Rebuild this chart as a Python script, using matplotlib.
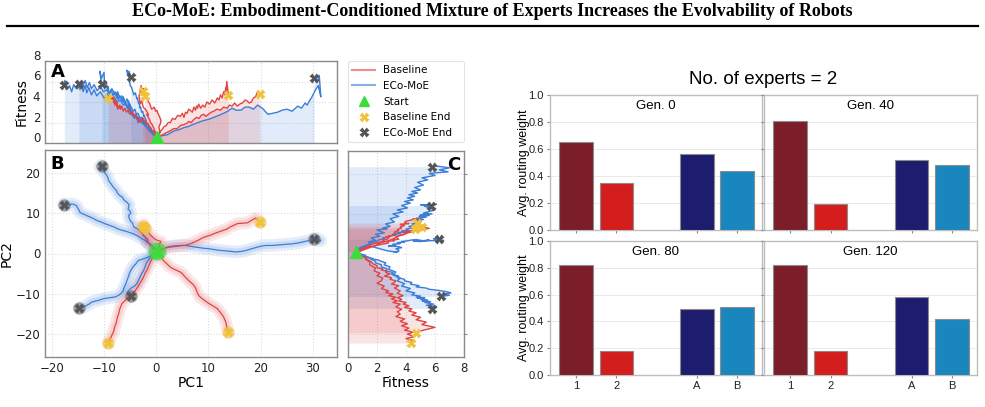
import matplotlib
matplotlib.use("Agg")
import matplotlib.pyplot as plt
from matplotlib.lines import Line2D
from matplotlib.transforms import ScaledTranslation

# ---------------- data: ECo-MoE trajectories (PC1, PC2, fitness) ----------------
eco1_pc1 = [0.2, -0.1, -0.6, -1.0, -1.2, -1.3, -1.7, -2.0, -2.1, -2.5, -2.6, -2.7, -3.1, -3.5, -3.8, -4.2, -4.4, -4.5, -4.9, -5.2, -5.3, -4.9, -5.0, -5.4, -5.3, -5.2, -5.6, -6.0, -6.3, -6.5, -7.0, -7.3, -7.5, -7.6, -7.9, -8.3, -8.6, -9.0, -9.2, -9.3, -9.6, -9.9, -10.0, -10.5, -10.8, -10.6, -10.4]
eco1_pc2 = [0.5, 0.8, 1.2, 1.7, 2.0, 2.5, 3.0, 3.4, 4.0, 4.4, 4.9, 5.3, 5.7, 6.0, 6.3, 6.5, 6.9, 7.5, 8.0, 8.8, 9.4, 10.0, 10.5, 11.0, 11.5, 12.1, 12.7, 13.1, 13.5, 14.0, 14.4, 14.8, 15.2, 15.6, 16.0, 16.6, 17.2, 17.9, 18.5, 19.0, 19.6, 20.1, 20.5, 21.0, 21.5, 21.9, 21.8]
eco1_fit = [0.55, 0.9, 0.8, 1.3, 1.1, 1.6, 1.4, 1.9, 1.6, 2.2, 1.9, 2.5, 2.2, 2.0, 2.7, 2.4, 2.9, 2.6, 3.2, 2.9, 3.5, 3.1, 3.8, 3.4, 4.1, 3.7, 4.3, 3.9, 4.5, 4.1, 4.6, 4.2, 4.8, 4.4, 5.0, 4.6, 5.2, 4.8, 5.5, 5.1, 6.0, 5.6, 6.9, 6.3, 7.0, 6.2, 5.8]

eco2_pc1 = [0.2, -0.3, -0.8, -1.2, -1.8, -2.1, -2.5, -2.9, -3.1, -3.5, -3.8, -4.1, -4.4, -4.9, -5.3, -5.8, -6.3, -6.9, -7.5, -8.1, -8.8, -9.4, -10.0, -10.7, -11.4, -11.9, -12.4, -12.9, -13.3, -13.6, -14.0, -14.3, -14.6, -14.9, -15.3, -15.8, -16.2, -16.6, -17.0, -17.5, -17.8, -17.6]
eco2_pc2 = [0.5, 1.2, 1.8, 2.4, 2.8, 3.2, 3.5, 3.8, 4.0, 4.3, 4.5, 4.7, 4.9, 5.1, 5.3, 5.5, 5.7, 5.9, 6.2, 6.6, 6.9, 7.2, 7.5, 7.9, 8.2, 8.6, 8.9, 9.2, 9.4, 9.6, 9.8, 10.0, 10.2, 11.0, 11.9, 12.2, 12.3, 12.0, 12.0, 12.4, 12.3, 12.1]
eco2_fit = [0.55, 0.8, 1.0, 1.4, 1.6, 2.0, 2.1, 2.5, 2.4, 2.9, 2.8, 3.3, 3.1, 3.6, 3.4, 3.9, 3.7, 4.2, 4.0, 4.5, 4.2, 4.8, 4.4, 5.0, 4.6, 5.2, 4.7, 5.4, 4.9, 5.6, 5.0, 5.8, 5.2, 6.0, 5.3, 5.7, 5.0, 5.6, 5.3, 6.1, 5.4, 5.7]

eco3_pc1 = [0.2, 0.6, 1.0, 1.5, 2.1, 2.8, 3.5, 4.4, 5.3, 6.1, 7.0, 8.0, 9.1, 10.0, 11.0, 12.0, 12.9, 13.7, 14.5, 15.3, 16.2, 17.0, 17.8, 18.6, 19.4, 20.0, 20.5, 21.0, 21.4, 22.3, 23.2, 24.1, 25.0, 26.0, 27.1, 27.8, 28.5, 28.9, 29.3, 29.7, 30.0, 30.5, 31.0, 31.3, 31.5, 31.2, 30.8, 30.2]
eco3_pc2 = [0.5, 0.7, 1.0, 1.3, 1.6, 1.8, 1.9, 2.0, 2.0, 1.9, 1.7, 1.5, 1.3, 1.2, 1.0, 0.8, 0.7, 0.6, 0.5, 0.4, 0.5, 0.7, 1.0, 1.3, 1.6, 1.8, 1.9, 2.0, 2.0, 2.0, 2.1, 2.2, 2.3, 2.4, 2.6, 2.8, 3.0, 3.1, 3.3, 3.5, 3.6, 3.3, 3.5, 3.1, 3.2, 3.4, 3.8, 3.7]
eco3_fit = [0.55, 0.6, 0.7, 0.75, 0.8, 1.0, 1.2, 1.3, 1.5, 1.6, 1.8, 2.0, 2.2, 2.3, 2.5, 2.7, 2.9, 3.1, 3.4, 3.2, 3.2, 3.5, 3.5, 3.3, 3.7, 3.5, 3.3, 3.0, 2.8, 2.9, 3.0, 3.2, 3.3, 3.1, 3.6, 3.4, 3.9, 3.7, 4.1, 4.4, 4.7, 5.2, 5.6, 5.0, 4.5, 6.6, 5.9, 6.3]

eco4_pc1 = [0.2, -0.3, -0.8, -1.2, -1.5, -2.0, -2.4, -2.9, -3.4, -3.7, -4.0, -4.4, -4.7, -5.0, -5.2, -5.4, -5.6, -5.8, -6.0, -6.2, -6.3, -6.6, -7.0, -7.4, -7.9, -8.5, -9.0, -9.5, -10.1, -10.7, -11.3, -11.9, -12.4, -12.8, -13.2, -13.6, -14.0, -14.5, -14.8]
eco4_pc2 = [0.5, 0.1, -0.3, -0.6, -0.9, -1.1, -1.3, -1.5, -1.7, -2.2, -2.7, -3.2, -3.8, -4.5, -5.2, -6.0, -6.7, -7.4, -8.0, -8.6, -9.2, -9.7, -10.2, -10.5, -10.8, -10.9, -11.0, -11.1, -11.2, -11.5, -11.7, -11.9, -12.1, -12.5, -12.8, -13.1, -13.3, -13.5, -13.6]
eco4_fit = [0.55, 0.7, 0.9, 1.2, 1.3, 1.7, 1.8, 2.1, 2.2, 2.6, 2.5, 2.9, 2.8, 3.3, 3.1, 3.6, 3.4, 3.9, 3.7, 4.3, 4.0, 4.6, 4.4, 5.0, 4.7, 5.3, 4.8, 5.2, 5.0, 5.5, 5.1, 5.7, 5.3, 5.9, 5.4, 6.1, 5.6, 6.0, 5.8]

eco5_pc1 = [0.2, -0.1, -0.3, -0.6, -0.8, -1.1, -1.3, -1.6, -1.8, -2.0, -2.1, -2.3, -2.4, -2.6, -2.8, -3.0, -3.1, -3.3, -3.4, -3.6, -3.7, -4.0, -4.3, -4.7, -5.0, -5.2, -5.4, -5.6, -5.5, -5.2, -4.9]
eco5_pc2 = [0.5, 0.2, 0.0, -0.3, -0.5, -0.9, -1.3, -1.8, -2.2, -2.7, -3.2, -3.7, -4.2, -4.6, -5.0, -5.5, -5.9, -6.3, -6.7, -7.1, -7.5, -7.9, -8.2, -8.5, -8.8, -9.1, -9.4, -9.7, -10.0, -10.3, -10.6]
eco5_fit = [0.55, 0.8, 0.9, 1.2, 1.2, 1.5, 1.6, 1.9, 1.9, 2.3, 2.3, 2.7, 2.6, 3.1, 3.0, 3.5, 3.4, 3.9, 3.9, 4.4, 4.3, 4.9, 4.7, 5.4, 5.6, 6.3, 6.8, 7.1, 6.6, 7.0, 6.4]

# ---------------- data: Baseline trajectories ----------------
base1_pc1 = [0.2, 0.0, -0.3, -0.5, -0.8, -1.1, -1.3, -1.6, -1.8, -2.1, -2.3, -2.5, -2.8, -3.1, -3.4, -3.7, -4.0, -4.3, -4.6, -5.0, -5.3, -5.7, -6.0, -6.3, -6.6, -6.8, -7.0, -7.1, -7.2, -7.4, -7.5, -7.6, -7.7, -7.9, -8.0, -8.1, -8.2, -8.4, -8.6, -8.8, -9.0, -9.2]
base1_pc2 = [0.5, 0.0, -0.4, -0.9, -1.3, -2.0, -2.7, -3.5, -4.2, -4.8, -5.4, -6.0, -6.7, -7.3, -8.0, -8.6, -9.2, -9.6, -10.0, -10.4, -10.8, -11.2, -11.7, -12.1, -12.5, -13.2, -13.8, -14.4, -15.0, -15.6, -16.2, -16.8, -17.4, -17.9, -18.5, -19.0, -19.5, -20.0, -20.6, -21.1, -21.6, -22.2]
base1_fit = [0.55, 0.8, 0.9, 1.2, 1.2, 1.5, 1.5, 1.9, 1.8, 2.2, 2.0, 2.4, 2.3, 2.0, 2.5, 2.3, 2.8, 2.6, 3.1, 2.8, 3.3, 3.0, 3.4, 3.1, 3.6, 3.3, 3.7, 3.4, 3.6, 3.3, 3.9, 3.6, 4.1, 3.7, 4.2, 3.9, 4.5, 4.1, 4.6, 4.0, 4.5, 4.35]

base2_pc1 = [0.2, 0.4, 0.6, 0.9, 1.1, 1.5, 1.9, 2.3, 2.7, 3.1, 3.6, 4.1, 4.6, 5.0, 5.3, 5.6, 5.9, 6.2, 6.5, 6.9, 7.2, 7.5, 7.7, 7.9, 8.1, 8.5, 8.9, 9.3, 9.7, 10.2, 10.7, 11.2, 11.7, 12.0, 12.3, 12.6, 12.9, 13.1, 13.3, 13.4, 13.5, 13.7, 13.8]
base2_pc2 = [0.5, 0.0, -0.4, -0.9, -1.3, -1.9, -2.4, -2.9, -3.4, -3.7, -4.0, -4.3, -4.6, -5.0, -5.5, -5.9, -6.3, -6.7, -7.1, -7.5, -7.9, -8.5, -9.2, -9.8, -10.4, -10.9, -11.3, -11.7, -12.1, -12.5, -12.9, -13.3, -13.7, -14.2, -14.7, -15.2, -15.8, -16.4, -17.0, -17.6, -18.3, -19.0, -19.6]
base2_fit = [0.55, 0.8, 0.9, 1.2, 1.3, 1.6, 1.7, 2.0, 2.0, 2.4, 2.3, 2.7, 2.6, 2.9, 2.5, 3.0, 2.9, 3.3, 3.2, 3.0, 3.5, 3.2, 3.6, 3.4, 3.8, 3.4, 3.7, 3.5, 4.0, 3.8, 4.2, 3.9, 4.4, 4.2, 4.7, 4.4, 5.0, 4.7, 5.4, 5.1, 6.0, 5.2, 4.7]

base3_pc1 = [0.2, 0.7, 1.2, 1.9, 2.7, 3.3, 4.0, 4.6, 5.3, 5.8, 6.2, 6.7, 7.2, 7.7, 8.2, 8.6, 9.1, 9.5, 10.0, 10.5, 11.0, 11.6, 12.3, 12.9, 13.6, 14.0, 14.5, 15.0, 15.5, 16.0, 16.5, 17.0, 17.4, 17.8, 18.2, 18.6, 19.0, 19.3, 19.5, 19.8]
base3_pc2 = [0.5, 0.8, 1.1, 1.4, 1.6, 1.7, 1.8, 1.9, 2.0, 2.1, 2.3, 2.5, 2.8, 3.1, 3.4, 3.7, 4.0, 4.2, 4.4, 4.6, 4.9, 5.2, 5.5, 5.8, 6.1, 6.5, 6.8, 7.1, 7.4, 7.5, 7.5, 7.6, 7.6, 7.9, 8.2, 8.5, 8.8, 8.6, 8.3, 7.7]
base3_fit = [0.55, 0.7, 0.8, 1.0, 1.2, 1.4, 1.4, 1.7, 1.8, 1.9, 2.1, 2.0, 2.3, 2.5, 2.4, 2.7, 2.8, 2.6, 2.8, 3.0, 3.1, 3.3, 3.2, 3.5, 3.4, 3.7, 3.6, 3.9, 3.6, 3.8, 3.9, 4.2, 4.1, 3.9, 4.0, 4.4, 4.5, 4.9, 4.9, 4.75]

base4_pc1 = [0.2, 0.0, -0.3, -0.5, -0.8, -1.1, -1.3, -1.6, -1.8, -1.5, -1.7, -2.1, -2.5, -2.8, -3.1, -3.3, -3.0, -2.9, -2.6, -2.4, -2.7, -2.6]
base4_pc2 = [0.5, 0.8, 1.2, 1.6, 2.0, 2.2, 2.4, 2.6, 2.8, 3.2, 3.6, 4.1, 4.6, 5.2, 5.5, 5.8, 6.1, 6.4, 6.8, 7.2, 7.0, 6.8]
base4_fit = [0.55, 0.9, 1.2, 1.5, 1.8, 2.0, 2.3, 2.6, 2.8, 2.7, 3.0, 3.3, 3.5, 4.1, 3.8, 4.6, 5.2, 5.6, 4.9, 5.3, 4.8, 5.1]

base5_pc1 = [0.2, 0.5, 0.7, 0.6, 0.5, 0.8, 0.9, 0.6, 0.4, 0.1, -0.1, -0.4, -0.6, -0.9, -1.1, -1.3, -1.5, -1.7, -1.8, -2.0, -2.2]
base5_pc2 = [0.5, 0.9, 1.3, 1.8, 2.4, 2.7, 3.0, 3.1, 3.2, 3.3, 3.5, 3.7, 4.0, 4.3, 4.6, 4.9, 5.2, 5.5, 5.8, 6.0, 6.3]
base5_fit = [0.55, 0.8, 1.1, 1.3, 1.6, 1.9, 2.2, 2.6, 2.8, 3.2, 3.1, 3.5, 3.4, 3.3, 3.6, 3.9, 4.0, 4.4, 4.3, 4.7, 4.6]

# ---------------- data: routing weights ----------------
generations = ["Gen. 0", "Gen. 40", "Gen. 80", "Gen. 120"]
bar_labels = ["1", "2", "A", "B"]
weight_1 = [0.655, 0.805, 0.824, 0.818]
weight_2 = [0.345, 0.195, 0.176, 0.182]
weight_A = [0.56, 0.517, 0.49, 0.585]
weight_B = [0.44, 0.483, 0.51, 0.415]

title_text = "ECo-MoE: Embodiment-Conditioned Mixture of Experts Increases the Evolvability of Robots"

# ---------------- styling ----------------
BLUE = "#3b7dd8"
RED = "#e04444"
GREEN = "#3ddc3d"
YELLOW = "#f0c23a"
GRAY = "#555555"
BAR_COLORS = ["#7b1e2a", "#d41d1d", "#1e1c6e", "#1a86be"]

eco = [(eco1_pc1, eco1_pc2, eco1_fit), (eco2_pc1, eco2_pc2, eco2_fit), (eco3_pc1, eco3_pc2, eco3_fit),
       (eco4_pc1, eco4_pc2, eco4_fit), (eco5_pc1, eco5_pc2, eco5_fit)]
base = [(base1_pc1, base1_pc2, base1_fit), (base2_pc1, base2_pc2, base2_fit), (base3_pc1, base3_pc2, base3_fit),
        (base4_pc1, base4_pc2, base4_fit), (base5_pc1, base5_pc2, base5_fit)]

W, H = 985, 407
fig = plt.figure(figsize=(W / 100, H / 100), dpi=100)
plt.rcParams['font.family'] = ['DejaVu Sans']


def box(x0, y0, x1, y1):
    return [x0 / W, 1 - y1 / H, (x1 - x0) / W, (y1 - y0) / H]


def style_left(ax):
    for s in ax.spines.values():
        s.set_color("#8a8a8a")
        s.set_linewidth(1.0)
    ax.grid(True, color="#dcdcdc", ls=":", lw=0.8)
    ax.set_axisbelow(True)
    ax.tick_params(labelsize=8.5, length=0, colors="#222222")


# title + rule
fig.text(0.5, 1 - 12 / H, title_text, ha="center", va="center", family="Liberation Serif",
         weight="bold", size=13)
fig.add_artist(Line2D([7 / W, 978 / W], [1 - 25.5 / H] * 2, color="black", lw=1.6))

XLIM = (-21.3, 34.6)
YLIM = (-25.7, 25.7)

# ---------------- Panel A ----------------
axA = fig.add_axes(box(45, 61, 337, 143))
style_left(axA)
for pc1, pc2, fit in eco:
    axA.fill_between(pc1, 0, fit, color=BLUE, alpha=0.15, lw=0)
for pc1, pc2, fit in base:
    axA.fill_between(pc1, 0, fit, color=RED, alpha=0.15, lw=0)
for pc1, pc2, fit in eco:
    axA.plot(pc1, fit, color=BLUE, lw=1.0)
for pc1, pc2, fit in base:
    axA.plot(pc1, fit, color=RED, lw=1.0)
for pc1, pc2, fit in eco:
    axA.plot(pc1[-1], fit[-1], "X", color=GRAY, ms=6.5, mec="none", zorder=5)
for pc1, pc2, fit in base:
    axA.plot(pc1[-1], fit[-1], "X", color=YELLOW, ms=6.5, mec="none", zorder=5)
axA.plot(eco1_pc1[0], eco1_fit[0], "^", color=GREEN, ms=8, zorder=6)
axA.set_xlim(XLIM)
axA.set_ylim(0, 8)
axA.set_xticks([-20, -10, 0, 10, 20, 30])
axA.set_yticks([0, 2, 4, 6, 8])
axA.tick_params(labelbottom=False)
axA.set_ylabel("Fitness", fontsize=10, labelpad=3)
off = ScaledTranslation(0, 6 / 100, fig.dpi_scale_trans)
for t in axA.yaxis.get_major_ticks():
    t.label1.set_transform(t.label1.get_transform() + off)
axA.text(0.02, 0.86, "A", transform=axA.transAxes, fontsize=13, weight="bold", va="center")

# ---------------- Panel B ----------------
axB = fig.add_axes(box(45, 150, 337, 357))
style_left(axB)
for group, col, glow in ((eco, BLUE, "#7fa9e6"), (base, RED, "#ee8c8c")):
    for pc1, pc2, fit in group:
        axB.plot(pc1, pc2, color=glow, lw=9, alpha=0.2, solid_capstyle="round", solid_joinstyle="round")
        axB.plot(pc1, pc2, color=glow, lw=5, alpha=0.25, solid_capstyle="round", solid_joinstyle="round")
for group, col in ((eco, BLUE), (base, RED)):
    for pc1, pc2, fit in group:
        axB.plot(pc1, pc2, color=col, lw=0.9)
for pc1, pc2, fit in eco:
    axB.plot(pc1[-1], pc2[-1], "o", color=GRAY, ms=9, alpha=0.5, mec="none", zorder=5)
    axB.plot(pc1[-1], pc2[-1], "X", color=GRAY, ms=7, mec="none", zorder=6)
for pc1, pc2, fit in base:
    axB.plot(pc1[-1], pc2[-1], "o", color=YELLOW, ms=9, alpha=0.5, mec="none", zorder=5)
    axB.plot(pc1[-1], pc2[-1], "X", color=YELLOW, ms=7, mec="none", zorder=6)
axB.plot(eco1_pc1[0], eco1_pc2[0], "o", color=GREEN, ms=13, alpha=0.7, mec="none", zorder=6)
axB.plot(eco1_pc1[0], eco1_pc2[0], "^", color=GREEN, ms=8, zorder=7)
axB.set_xlim(XLIM)
axB.set_ylim(YLIM)
axB.set_xticks([-20, -10, 0, 10, 20, 30])
axB.set_yticks([-20, -10, 0, 10, 20])
axB.set_xlabel("PC1", fontsize=10, labelpad=1)
axB.set_ylabel("PC2", fontsize=10, labelpad=1)
axB.text(0.02, 0.93, "B", transform=axB.transAxes, fontsize=13, weight="bold", va="center")

# ---------------- Panel C ----------------
axC = fig.add_axes(box(348, 151, 464, 357))
style_left(axC)
for pc1, pc2, fit in eco:
    axC.fill_betweenx(pc2, 0, fit, color=BLUE, alpha=0.15, lw=0)
for pc1, pc2, fit in base:
    axC.fill_betweenx(pc2, 0, fit, color=RED, alpha=0.15, lw=0)
for pc1, pc2, fit in eco:
    axC.plot(fit, pc2, color=BLUE, lw=1.0)
for pc1, pc2, fit in base:
    axC.plot(fit, pc2, color=RED, lw=1.0)
for pc1, pc2, fit in eco:
    axC.plot(fit[-1], pc2[-1], "X", color=GRAY, ms=6.5, mec="none", zorder=5)
for pc1, pc2, fit in base:
    axC.plot(fit[-1], pc2[-1], "X", color=YELLOW, ms=6.5, mec="none", zorder=5)
axC.plot(eco1_fit[0], eco1_pc2[0], "^", color=GREEN, ms=8, zorder=6)
axC.set_xlim(0, 8)
axC.set_ylim(YLIM)
axC.set_xticks([0, 2, 4, 6, 8])
axC.set_yticks([-20, -10, 0, 10, 20])
axC.yaxis.tick_right()
axC.tick_params(axis="y", labelright=False, length=2.5, color="#8a8a8a")
axC.set_xlabel("Fitness", fontsize=10, labelpad=1)
axC.text(0.97, 0.93, "C", transform=axC.transAxes, fontsize=13, weight="bold", va="center", ha="right")

# ---------------- Legend ----------------
axL = fig.add_axes(box(348, 61, 464, 142))
axL.axis("off")
handles = [
    Line2D([], [], color=RED, lw=1.5, alpha=0.6),
    Line2D([], [], color=BLUE, lw=1.5, alpha=0.6),
    Line2D([], [], color=GREEN, marker="^", ls="none", ms=7),
    Line2D([], [], color=YELLOW, marker="X", ls="none", ms=7, mec="none"),
    Line2D([], [], color=GRAY, marker="X", ls="none", ms=7, mec="none"),
]
leg = axL.legend(handles, ["Baseline", "ECo-MoE", "Start", "Baseline End", "ECo-MoE End"],
                 loc="upper left", bbox_to_anchor=(0, 1, 1, 0), mode="expand", borderaxespad=0,
                 fontsize=7.5, frameon=True, fancybox=True, labelspacing=0.55, handlelength=2.2)
leg.get_frame().set_edgecolor("#dddddd")
leg.get_frame().set_linewidth(0.8)

# ---------------- Right panel: routing weights ----------------
fig.text(763 / W, 1 - 80 / H, "No. of experts = 2", ha="center", va="center",
         family="Liberation Sans", fontsize=13.5)
positions = [0, 1, 3, 4]
boxes = [box(550, 95, 762, 230), box(764, 95, 977, 230), box(550, 241, 762, 375), box(764, 241, 977, 375)]
for i, g in enumerate(generations):
    ax = fig.add_axes(boxes[i])
    vals = [weight_1[i], weight_2[i], weight_A[i], weight_B[i]]
    ax.bar(positions, vals, width=0.83, color=BAR_COLORS, edgecolor="#8c8c8c", linewidth=0.8, zorder=3)
    ax.set_xlim(-0.65, 4.62)
    ax.set_ylim(0, 1.0)
    ax.set_yticks([0, 0.2, 0.4, 0.6, 0.8, 1.0])
    ax.set_xticks(positions)
    ax.set_xticklabels(bar_labels, family="Liberation Sans")
    ax.grid(axis="y", color="#e6e6e6", lw=0.6)
    ax.set_axisbelow(True)
    for s in ax.spines.values():
        s.set_color("#bdbdbd")
        s.set_linewidth(1.0)
    ax.tick_params(labelsize=8, length=2.5, color="#888888", labelcolor="#222222", pad=2)
    for lab in ax.get_yticklabels():
        lab.set_family("Liberation Sans")
    ax.text(0.5, 0.92, g, transform=ax.transAxes, ha="center", va="center",
            family="Liberation Sans", fontsize=9.5)
    if i % 2 == 0:
        ax.set_ylabel("Avg. routing weight", family="Liberation Sans", fontsize=9, labelpad=-1)
    else:
        ax.tick_params(labelleft=False)
    if i < 2:
        ax.tick_params(labelbottom=False)

fig.savefig("out.png", dpi=100)
